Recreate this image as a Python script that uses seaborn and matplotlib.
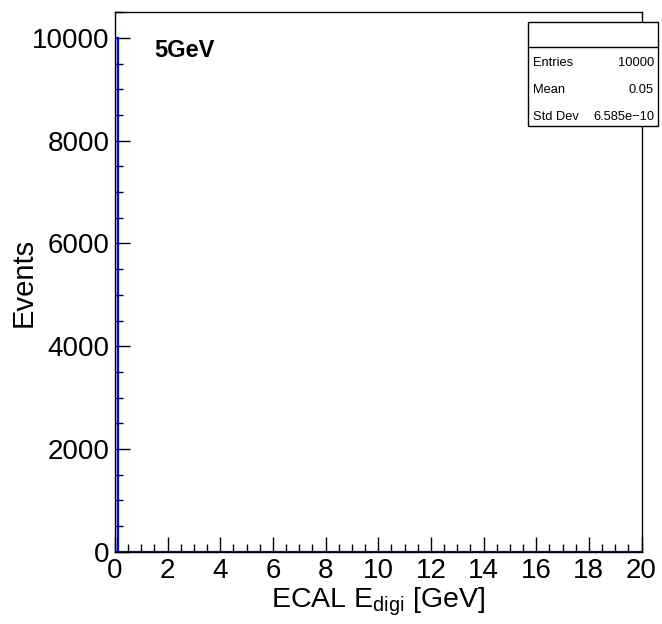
import numpy as np
import pandas as pd
import seaborn as sns
import matplotlib.pyplot as plt
from matplotlib.patches import Rectangle
from matplotlib.lines import Line2D
from matplotlib.ticker import MultipleLocator

# dados do histograma (todas as entradas no primeiro bin)
energia_digi = [0.05]
eventos = [10000]
n_bins = 200
faixa_x = (0, 20)

rotulos_stats = ["Entries", "Mean", "Std Dev"]
valores_stats = ["10000", "0.05", "6.585e\u221210"]
titulo = "5GeV"

sns.set_theme(style="ticks")
plt.rcParams["font.family"] = ["Liberation Sans", "DejaVu Sans"]
plt.rcParams["mathtext.fontset"] = "custom"
plt.rcParams["mathtext.rm"] = "Liberation Sans"
plt.rcParams["text.color"] = "black"
plt.rcParams["axes.labelcolor"] = "black"

W, H = 662, 624
fig = plt.figure(figsize=(W / 100, H / 100), dpi=100)
ax = fig.add_axes([115 / W, 1 - 551.7 / H, (641.5 - 115) / W, (551.7 - 12.3) / H])

df = pd.DataFrame({"E": energia_digi, "n": eventos})
sns.histplot(data=df, x="E", weights="n", bins=n_bins, binrange=faixa_x,
             element="bars", fill=False, color="#0000ff", linewidth=1.6, ax=ax)

ax.set_xlim(*faixa_x)
ax.set_ylim(0, 10500)
ax.xaxis.set_major_locator(MultipleLocator(2))
ax.xaxis.set_minor_locator(MultipleLocator(0.5))
ax.yaxis.set_major_locator(MultipleLocator(2000))
ax.yaxis.set_minor_locator(MultipleLocator(500))
ax.tick_params(which="both", direction="in", top=False, right=False,
               labelsize=20, color="black", labelcolor="black", width=1)
ax.tick_params(which="major", length=11)
ax.tick_params(which="minor", length=5.5)
ax.tick_params(axis="x", pad=4.5)
ax.tick_params(axis="y", pad=4)
for s in ax.spines.values():
    s.set_color("black")
    s.set_linewidth(1)

ax.set_xlabel(r"ECAL E$_\mathregular{digi}$ [GeV]", fontsize=20.5)
ax.xaxis.label.set_va("baseline")
ax.xaxis.set_label_coords(0.5, -0.103)
ax.set_ylabel("Events", fontsize=21)
ax.yaxis.label.set_va("baseline")
ax.yaxis.set_label_coords(-0.158, 0.5)

fig.text(154 / W, 1 - 57 / H, titulo, fontsize=17, fontweight="bold",
         ha="left", va="baseline")

# caixa de estatisticas estilo ROOT
x0, x1, y0, y1, ydiv = 527.7, 658, 22.3, 125.7, 46.7
fig.add_artist(Rectangle((x0 / W, 1 - y1 / H), (x1 - x0) / W, (y1 - y0) / H,
                         transform=fig.transFigure, facecolor="white",
                         edgecolor="black", linewidth=1, zorder=5))
fig.add_artist(Line2D([x0 / W, x1 / W], [1 - ydiv / H, 1 - ydiv / H],
                      transform=fig.transFigure, color="black", linewidth=1, zorder=6))
for rot, val, yb in zip(rotulos_stats, valores_stats, [65.7, 93.3, 120]):
    fig.text(533 / W, 1 - yb / H, rot, fontsize=9.3, ha="left", va="baseline", zorder=7)
    fig.text(654 / W, 1 - yb / H, val, fontsize=9.3, ha="right", va="baseline", zorder=7)

fig.savefig("out.png", dpi=100)
